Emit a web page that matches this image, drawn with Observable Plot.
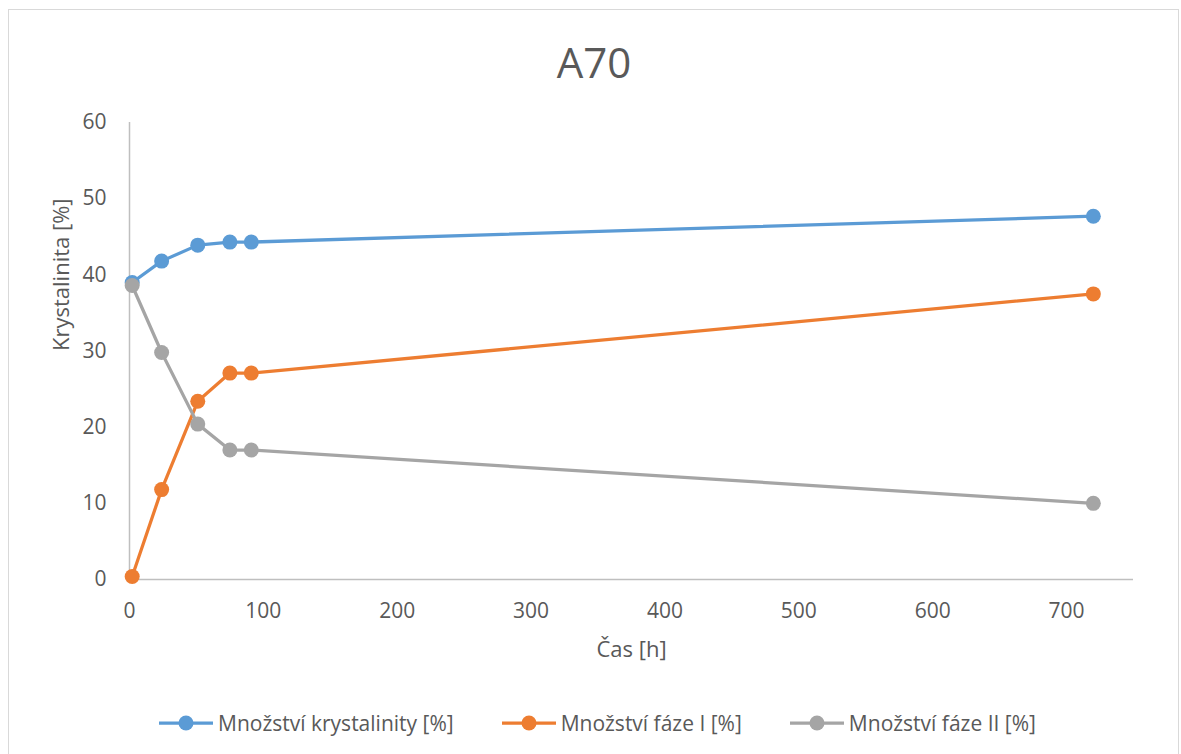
<!DOCTYPE html>
<html>
<head>
<meta charset="utf-8">
<script src="https://cdn.jsdelivr.net/npm/d3@7"></script>
<script src="https://cdn.jsdelivr.net/npm/@observablehq/plot@0.6"></script>
<style>
  html, body { margin: 0; padding: 0; background: #fff; }
  #wrap { position: relative; width: 1181px; height: 754px; overflow: hidden; font-family: "Open Sans", sans-serif; color: #595959; }
  #frame { position: absolute; left: 8px; top: 9px; width: 1171px; height: 800px; border: 1.5px solid #d9d9d9; box-sizing: border-box; }
  #title { position: absolute; left: 0; width: 1188px; top: 33px; text-align: center; font-size: 42px; line-height: 58px; color: #595959; }
  #chart { position: absolute; left: 0; top: 100px; }
  #legend { position: absolute; left: 159px; top: 708px; display: flex; gap: 48px; align-items: center; font-size: 21px; line-height: 30px; }
  .item { display: flex; align-items: center; gap: 5px; white-space: nowrap; }
</style>
</head>
<body>
<div id="wrap">
  <div id="frame"></div>
  <div id="title"></div>
  <div id="chart"></div>
  <div id="legend"></div>
</div>
<script>
const chartTitle = "A70";
const xLabel = "Čas [h]";
const yLabel = "Krystalinita [%]";
const hours = [2, 24, 51, 75, 91, 720];
const krystalinita = [39.0, 41.8, 43.9, 44.3, 44.3, 47.7];
const fazeI = [0.4, 11.8, 23.4, 27.1, 27.1, 37.5];
const fazeII = [38.6, 29.8, 20.4, 17.0, 17.0, 10.0];
const seriesNames = ["Množství krystalinity [%]", "Množství fáze I [%]", "Množství fáze II [%]"];
const seriesColors = ["#5B9BD5", "#ED7D31", "#A5A5A5"];
const xTicks = [0, 100, 200, 300, 400, 500, 600, 700];
const yTicks = [0, 10, 20, 30, 40, 50, 60];

const seriesValues = [krystalinita, fazeI, fazeII];
const data = seriesNames.flatMap((name, i) =>
  hours.map((h, j) => ({series: name, h, v: seriesValues[i][j]}))
);

document.getElementById("title").textContent = chartTitle;

const marks = [
  Plot.ruleY([0], {stroke: "#bfbfbf", strokeWidth: 1.5}),
  Plot.ruleX([0], {stroke: "#bfbfbf", strokeWidth: 1.5}),
  Plot.axisX({ticks: xTicks, tickSize: 0, tickPadding: 24, fontSize: 21, color: "#595959", label: null}),
  Plot.axisY({ticks: yTicks, tickSize: 0, tickPadding: 23, fontSize: 21, color: "#595959", label: null}),
  Plot.text([xLabel], {frameAnchor: "bottom", dy: 70, lineAnchor: "middle", fontSize: 22, fill: "#595959"}),
  Plot.text([yLabel], {frameAnchor: "left", dx: -68, rotate: -90, lineAnchor: "middle", fontSize: 22, fill: "#595959"})
];
seriesNames.forEach((name, i) => {
  const d = data.filter(r => r.series === name);
  marks.push(Plot.line(d, {x: "h", y: "v", stroke: seriesColors[i], strokeWidth: 3.25}));
  marks.push(Plot.dot(d, {x: "h", y: "v", r: 7.5, fill: seriesColors[i], stroke: "none"}));
});

const chart = Plot.plot({
  width: 1181,
  height: 580,
  marginLeft: 129,
  marginRight: 48,
  marginTop: 22,
  marginBottom: 101,
  style: {fontFamily: "Open Sans", color: "#595959", background: "transparent"},
  x: {domain: [0, 750]},
  y: {domain: [0, 60]},
  marks
});
document.getElementById("chart").appendChild(chart);

const legend = document.getElementById("legend");
seriesNames.forEach((name, i) => {
  const item = document.createElement("div");
  item.className = "item";
  item.innerHTML = `<svg width="54" height="20"><line x1="0" x2="54" y1="10" y2="10" stroke="${seriesColors[i]}" stroke-width="3.25"/><circle cx="27" cy="10" r="7.5" fill="${seriesColors[i]}"/></svg>`;
  const span = document.createElement("span");
  span.textContent = name;
  item.appendChild(span);
  legend.appendChild(item);
});
</script>
</body>
</html>
